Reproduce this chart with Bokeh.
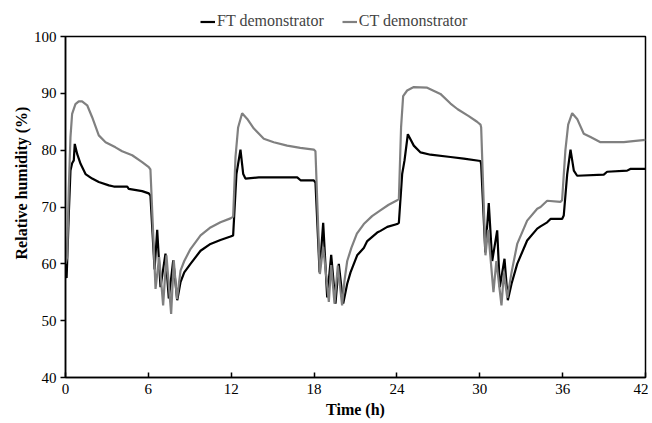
from bokeh.plotting import figure
from bokeh.layouts import column
from bokeh.models import Legend, LegendItem, Range1d, FixedTicker
from bokeh.embed import file_html
from bokeh.resources import INLINE

# ---- data ----
ft_time = [0, 0.08, 0.24, 0.36, 0.48, 0.6, 0.67, 0.85, 1.09, 1.45, 1.93, 2.41, 3.14, 3.5, 4.47, 4.58, 5.55, 6.03, 6.15,
           6.45, 6.64, 6.88, 7.24, 7.48, 7.8, 8.09, 8.33, 8.6, 9.05, 9.78, 10.5, 11.22, 11.95, 12.14, 12.38, 12.67, 12.87, 13.03, 14, 15, 16.78, 17.02, 17.98, 18.1,
           18.4, 18.66, 18.95, 19.24, 19.55, 19.79, 20.11, 20.4, 20.64, 21.12, 21.6, 21.85, 22.57, 22.81, 23.3, 24.02, 24.14, 24.38, 24.55, 24.79, 25.22, 25.71, 26.43, 27.88, 28.84, 30.05, 30.1,
           30.4, 30.65, 30.9, 31.26, 31.45, 31.79, 32.03, 32.3, 32.71, 33.43, 34.16, 34.4, 34.88, 35.12, 35.96, 36.08, 36.33, 36.57, 36.81, 37.05, 38.98, 39.22, 40.67, 40.9, 42]
ft_rh = [60, 57.5, 68.8, 76.4, 77.7, 78.2, 81.1, 79.3, 77.6, 75.8, 75.0, 74.4, 73.8, 73.6, 73.6, 73.2, 72.8, 72.4, 72.0,
         59, 66.0, 55.9, 61.8, 53.9, 60.6, 53.6, 56.8, 58.5, 60.0, 62.3, 63.5, 64.2, 64.8, 65.0, 75.8, 80.1, 75.8, 75.0, 75.2, 75.2, 75.2, 74.7, 74.7, 74.3,
         58.5, 67.2, 54.1, 61.6, 53.0, 60.0, 53.0, 56.5, 58.5, 61.5, 62.8, 64.0, 65.5, 65.8, 66.5, 67.0, 67.2, 75.8, 78.2, 82.8, 80.8, 79.6, 79.2, 78.8, 78.5, 78.1, 77.5,
         62, 70.7, 60.5, 65.9, 55.9, 60.9, 53.6, 56.5, 60.0, 64.1, 66.2, 66.6, 67.3, 67.9, 67.9, 68.5, 75.8, 80.1, 76.4, 75.5, 75.7, 76.2, 76.4, 76.7, 76.7]

ct_time = [0, 0.12, 0.24, 0.36, 0.48, 0.72, 0.96, 1.2, 1.57, 1.93, 2.41, 2.9, 3.62, 4.1, 4.83, 5.55, 6.03, 6.15,
           6.52, 6.78, 7.07, 7.31, 7.65, 7.84, 8.07, 8.33, 8.6, 9.05, 9.78, 10.5, 11.22, 11.95, 12.14, 12.31, 12.5, 12.79, 13.16, 13.64, 14.36, 15.08, 16.05, 17.0, 17.98, 18.1,
           18.42, 18.66, 19.07, 19.24, 19.48, 19.72, 20.03, 20.2, 20.4, 20.7, 21.1, 21.6, 22.2, 22.8, 23.4, 24.02, 24.14, 24.3, 24.45, 24.74, 25.22, 26.19, 27.15, 27.88, 28.4, 29.2, 29.8, 30.05, 30.1,
           30.41, 30.6, 30.99, 31.2, 31.57, 31.75, 31.99, 32.3, 32.71, 33.43, 34.16, 34.4, 34.88, 35.84, 35.96, 36.2, 36.4, 36.69, 37.05, 37.53, 38.02, 38.74, 40.43, 41.1, 42]
ct_rh = [60, 61.2, 73.5, 82.3, 86.4, 88.1, 88.6, 88.6, 87.9, 85.8, 82.6, 81.4, 80.5, 79.8, 79.1, 77.9, 77.0, 76.6,
         55.6, 61.2, 52.7, 61.5, 51.2, 60.6, 53.8, 58.8, 60.5, 62.6, 65.0, 66.4, 67.3, 68.0, 68.3, 78.8, 84, 86.5, 85.5, 83.8, 82.0, 81.4, 80.8, 80.4, 80.1, 79.8,
         58.2, 63.0, 53.3, 59.8, 53.0, 59.7, 52.7, 57.0, 60.5, 62.8, 65.3, 67.0, 68.4, 69.4, 70.4, 71.2, 71.4, 84, 89.5, 90.5, 91.1, 91.0, 89.9, 88.2, 87.2, 86.0, 85.0, 84.5, 84.0,
         61.5, 66, 55, 60.5, 52.7, 58.5, 54.0, 58.5, 63.5, 67.6, 69.7, 70.0, 71.1, 70.9, 71.2, 80, 84.5, 86.5, 85.5, 82.9, 82.3, 81.4, 81.4, 81.6, 81.8]

x_ticks = [0, 6, 12, 18, 24, 30, 36, 42]
y_ticks = [40, 50, 60, 70, 80, 90, 100]
series_names = ["FT demonstrator", "CT demonstrator"]
x_title = "Time (h)"
y_title = "Relative humidity (%)"

FONT = "Liberation Serif"
GRAY = "#808080"
LW = 2.2

# ---- legend strip (separate small figure above the chart; its y range hides the lines) ----
lg = figure(width=648, height=30, output_backend="svg", toolbar_location=None,
            x_range=Range1d(0, 42), y_range=Range1d(0, 1),
            x_axis_location=None, y_axis_location=None,
            min_border=0, outline_line_color=None)
lg.grid.visible = False
l_ft = lg.line(ft_time, ft_rh, line_color="black", line_width=LW)
l_ct = lg.line(ct_time, ct_rh, line_color=GRAY, line_width=LW)
legend = Legend(items=[LegendItem(label=series_names[0], renderers=[l_ft]),
                       LegendItem(label=series_names[1], renderers=[l_ct])],
                location=(135, 0), orientation="horizontal",
                label_text_font=FONT, label_text_font_size="16px",
                glyph_width=15, glyph_height=13, label_height=13,
                label_standoff=2, spacing=18, padding=0, margin=0,
                border_line_color=None, background_fill_alpha=0)
lg.add_layout(legend, "center")

# ---- main chart ----
p = figure(width=648, height=391, output_backend="svg", toolbar_location=None,
           x_range=Range1d(0, 42), y_range=Range1d(40, 100),
           min_border_left=65, min_border_right=3, min_border_top=6, min_border_bottom=44)
p.grid.visible = False
p.outline_line_color = "black"
p.outline_line_width = 1.5

p.line(ft_time, ft_rh, line_color="black", line_width=LW)
p.line(ct_time, ct_rh, line_color=GRAY, line_width=LW)

for ax in (p.xaxis[0], p.yaxis[0]):
    ax.axis_line_color = "black"
    ax.axis_line_width = 1.5
    ax.major_tick_line_color = "black"
    ax.major_tick_line_width = 1.5
    ax.minor_tick_line_color = None
    ax.major_label_text_font = FONT
    ax.major_label_text_font_size = "15px"
    ax.major_label_text_color = "black"
    ax.axis_label_text_font = FONT
    ax.axis_label_text_font_size = "16px"
    ax.axis_label_text_font_style = "bold"
    ax.axis_label_text_color = "black"

p.xaxis[0].ticker = FixedTicker(ticks=x_ticks)
p.yaxis[0].ticker = FixedTicker(ticks=y_ticks)
p.xaxis[0].major_tick_in = 5
p.xaxis[0].major_tick_out = 0
p.xaxis[0].major_label_standoff = 6
p.xaxis[0].axis_label = x_title
p.xaxis[0].axis_label_standoff = 4
p.yaxis[0].major_tick_in = 0
p.yaxis[0].major_tick_out = 5
p.yaxis[0].major_label_standoff = 4
# leading em spaces shift the title upward, as in the reference
p.yaxis[0].axis_label = "\u2003" * 3 + y_title
p.yaxis[0].axis_label_standoff = 1

layout = column(lg, p, spacing=0)
open("out.html", "w").write(file_html(layout, INLINE))
